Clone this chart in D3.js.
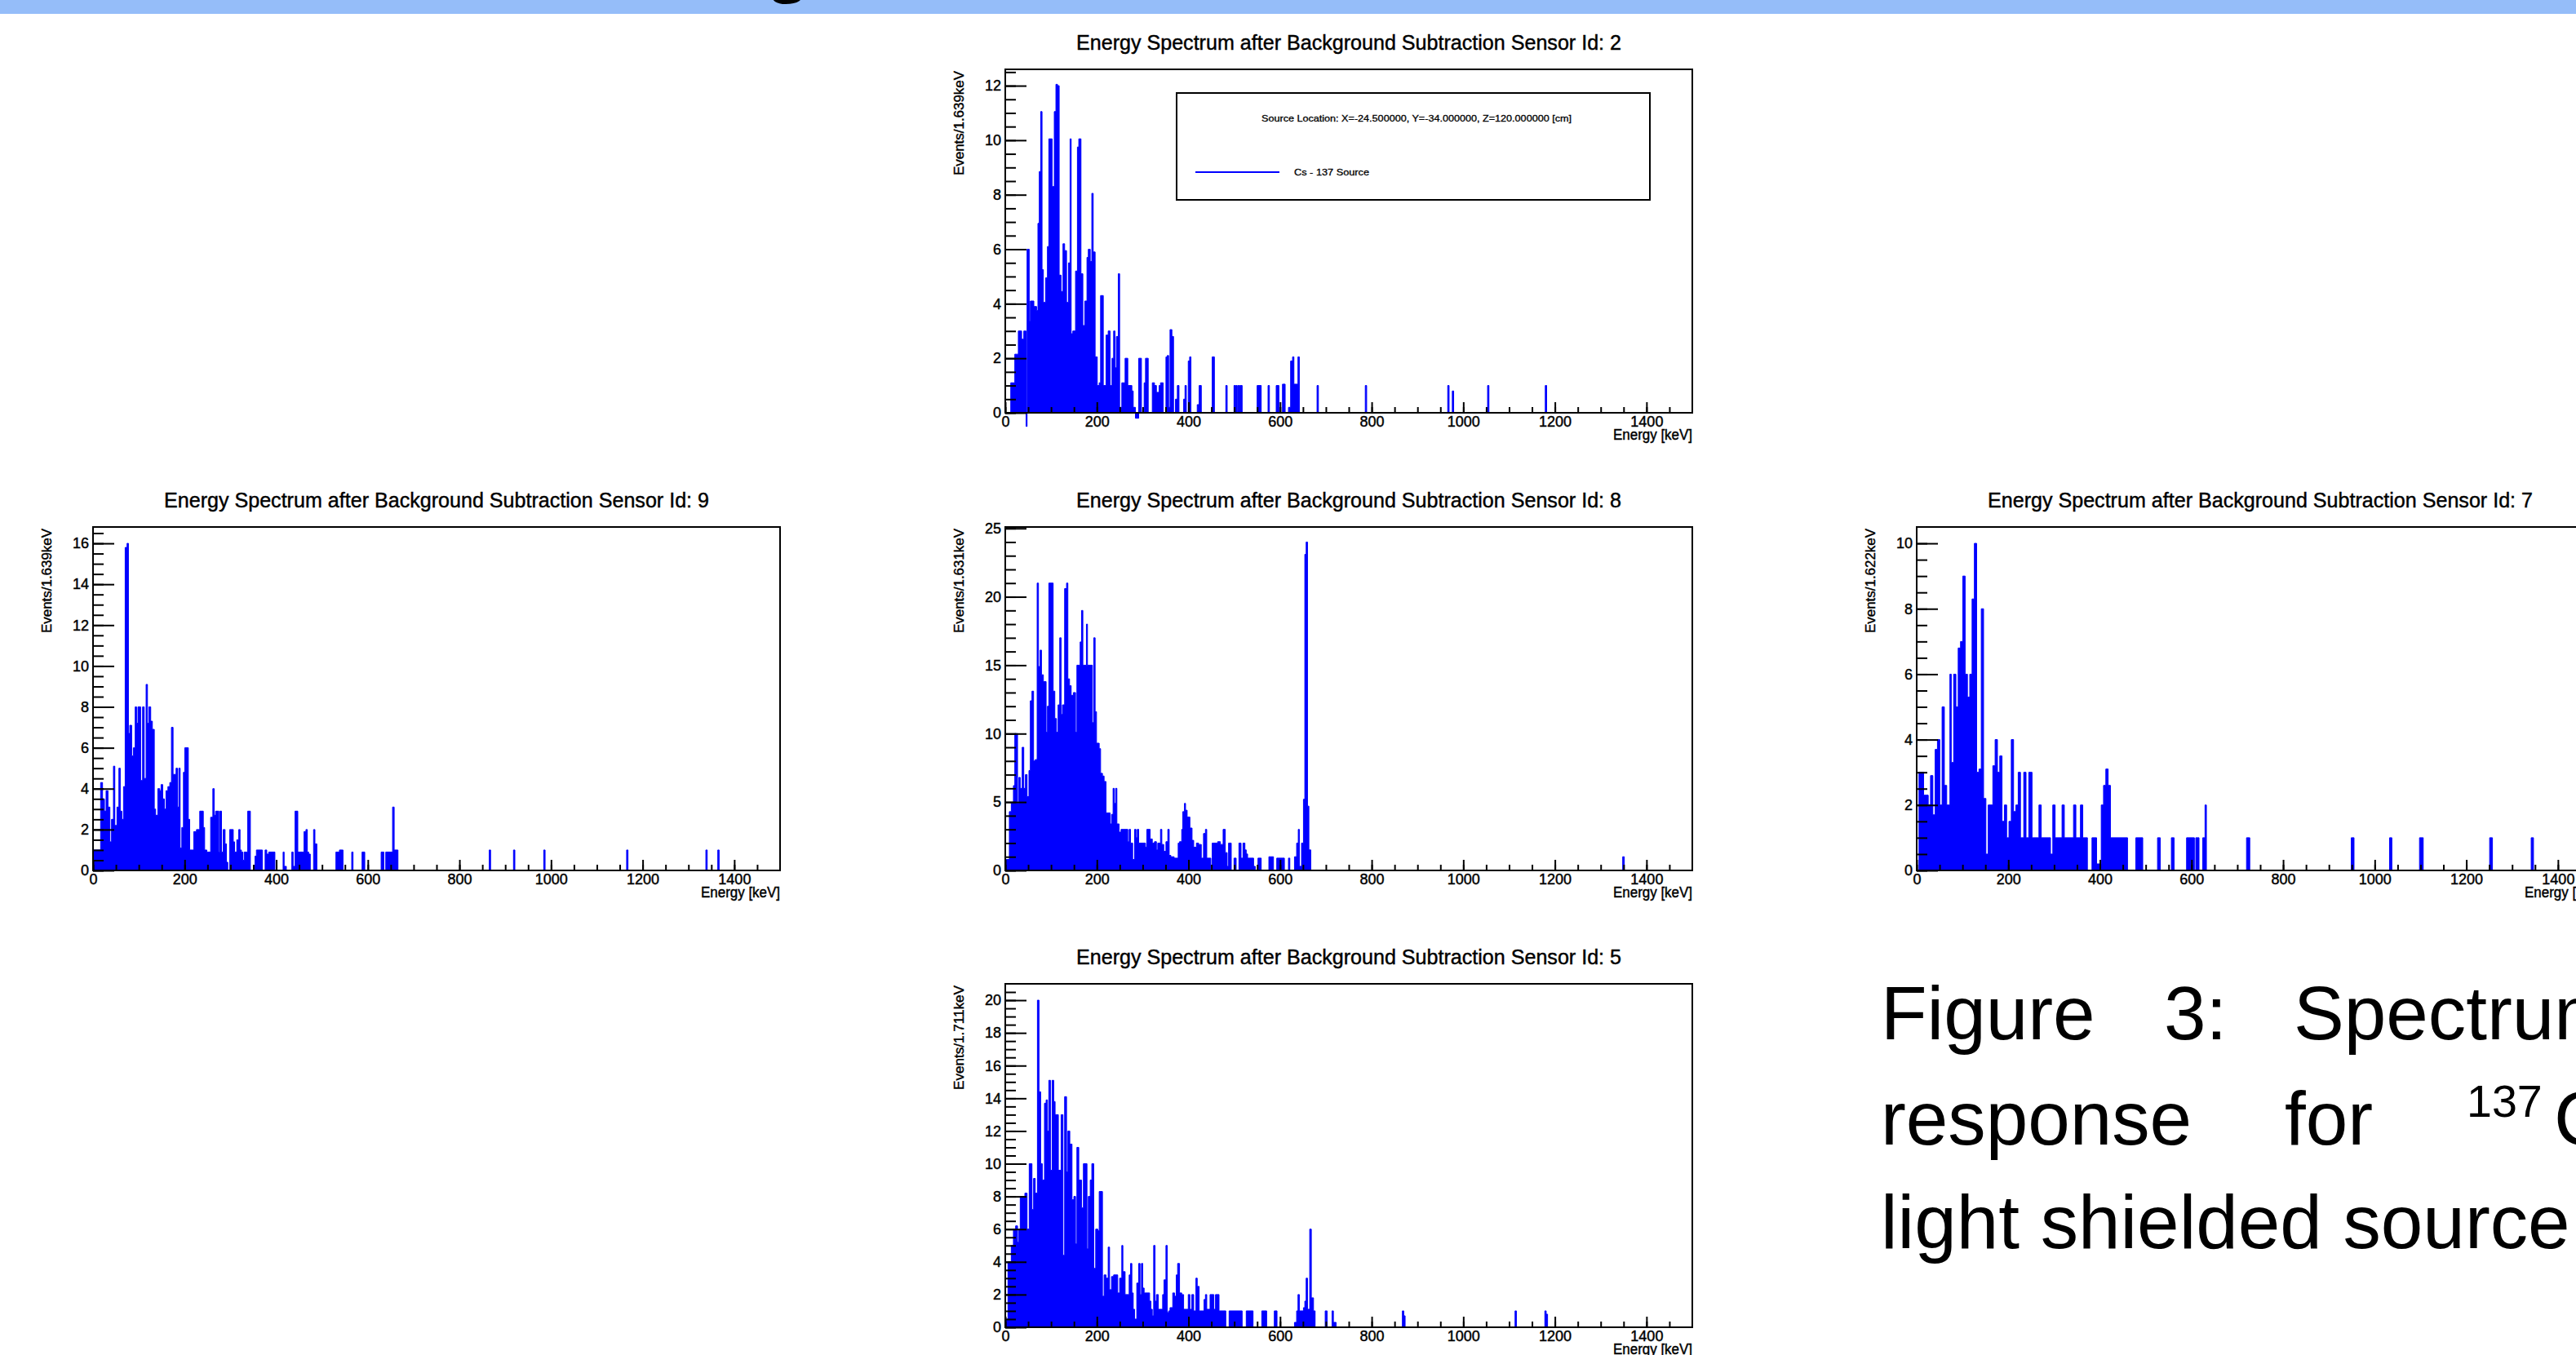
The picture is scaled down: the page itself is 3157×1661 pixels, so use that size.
<!DOCTYPE html>
<html>
<head>
<meta charset="utf-8">
<script src="https://cdn.jsdelivr.net/npm/d3@7"></script>
<style>
  body { margin: 0; background: #fff; }
  svg { display: block; }
  text { font-family: "Liberation Sans", Arial, Helvetica, sans-serif; }
</style>
</head>
<body>
<div id="wrapper"></div>
<script>
// ---- data ----
const sensorIds = [2, 9, 8, 7, 5]
const binWidths = ["1.639", "1.639", "1.631", "1.622", "1.711"]
const yMaxima = [12.6, 16.8, 25.1, 10.5, 21]
const yMajorSteps = [2, 2, 5, 2, 2]
const yMinorSteps = [0.5, 0.5, 1, 0.5, 0.5]
const energyTicks = [0, 200, 400, 600, 800, 1000, 1200, 1400]
const energyMinorStep = 50
const energyMax = 1500

// histogram outlines: [energy keV where the step starts, events]
const sensor2Steps = [[0,0],[12,1.1],[20.8,2.15],[28.5,3],[35.7,2.7],[40.4,3],[45.5,-0.5],[47.6,6],[52.3,3.35],[54.7,4.1],[62.4,3.9],[68.4,3.75],[71.3,6.95],[74.3,8.85],[77.3,11.05],[80.3,5.25],[83.2,4.05],[88,4.95],[92.1,6.1],[95.1,10.05],[102.3,8.3],[107,11.05],[110.6,12.05],[114.1,12],[117.7,5.05],[121.9,4.45],[126,6.2],[129.6,5.95],[133.8,4.05],[137.9,5.5],[141.5,10.05],[143.9,2.9],[147.4,3],[153.4,5.2],[157.5,9.75],[160.5,10.05],[165.3,5.1],[169.4,3.2],[173.6,4.1],[178.4,5.7],[181.3,6],[185.5,5.55],[189,8.05],[192,5.9],[196.2,2.05],[200.9,1],[205.1,1.1],[208.1,4.3],[214,1],[220,2.85],[224.7,3],[228.9,1],[233,2],[236.6,3],[239.6,1.65],[242.6,2.8],[246.7,5.1],[249.7,0.2],[254.4,1.1],[261.6,2],[267.5,1],[276.4,0.8],[279.4,0.2],[284.2,-0.2],[291.3,2],[297.3,0],[303.2,1.1],[306.2,2],[312.1,0],[321,1.1],[325.8,1],[330,0.75],[335.9,1],[338.9,1.1],[344.8,0],[350.8,2.05],[353.7,2.1],[356.7,0.2],[359.7,3.05],[363.8,2.8],[367.4,0],[371.6,0.5],[375.7,1],[379.3,0],[389.4,0.5],[392.4,1],[395.3,0],[399.5,1.9],[402.5,2.05],[405.4,0],[419.1,0.3],[423.3,1],[428,0],[451.8,2.05],[456.6,0],[481.5,1],[484.5,0],[499.4,1],[502.4,0],[503.5,1],[506.5,0],[508.3,1],[511.3,0],[512.5,1],[517.2,0],[549.9,1],[558.8,0],[573.7,1],[576.7,0],[591.5,1],[597.5,0],[605.2,1.05],[611.1,0],[618.3,0.2],[623,1.9],[627.2,2.05],[630.2,1.05],[639,2.05],[642,0],[680.7,1],[683.7,0],[786,1],[789,0],[966,1],[969,0],[976,0.8],[979,0],[1053,1],[1056,0],[1179,1],[1182,0]]

const sensor9Steps = [[0,1],[16.6,4.3],[20.8,3.5],[25,2.9],[28.5,3.9],[32.7,3.1],[36.9,1.4],[40.4,2.5],[44.6,5.1],[47.6,2.2],[52.3,3.1],[56.5,5],[59.5,2.9],[63,2.5],[66.6,4.1],[70.2,15.8],[74.3,16],[77.3,6.7],[80.3,7.1],[84.4,5.6],[88,6],[92.1,8],[95.1,7.2],[98.1,8],[104,4.4],[108.2,8],[111.8,4.5],[115.9,9.1],[118.9,7.2],[121.9,8],[126,7.3],[129.6,6.9],[133.8,3],[136.7,2.7],[141.5,4],[145.7,3.9],[148.6,4.2],[152.2,3.5],[155.8,3],[159.3,3.9],[163.5,4.1],[167.6,4.3],[171.2,7],[174.8,4.7],[181.3,5],[184.3,3.1],[187.3,5],[190.2,1.1],[193.8,2.1],[197.4,4.8],[200.3,6],[208.1,2.5],[211,1],[220,1.9],[225.9,2],[233,2.9],[240.8,2.1],[243.7,1],[248.5,0.9],[256.8,2.6],[261.6,4],[264.6,2.7],[267.5,2.9],[274.7,0.9],[277,2.9],[280.6,0.9],[284.2,2],[288.3,1.3],[291.3,0.4],[294.3,0],[298.4,2],[306.2,1.4],[309.1,0.9],[313.9,1.5],[318.1,2],[321,1],[324,0.9],[327,0.5],[330,0.9],[337.7,2.9],[343.6,0],[353.7,0.7],[356.7,1],[369.8,0],[375.7,1],[379.3,0.8],[383.5,0.9],[397.1,0],[415,0.9],[417.3,0.2],[422.1,0],[434,0.9],[437,0.2],[441.1,2.9],[447.1,0.9],[460.7,1.9],[464.9,2],[467.9,0.9],[470.8,0.8],[474.4,0],[481.5,2],[484.5,1.3],[488.7,0],[530.3,0.9],[538,1],[545.8,0],[564.8,0.9],[567.7,0],[587.4,0.9],[593.3,0],[629,0.9],[634.9,0],[639.1,0.9],[654,3.1],[657.5,1],[665.8,0],[865,1],[868,0],[918,1],[921,0],[984,1],[987,0],[1165,1],[1168,0],[1338,1],[1341,0],[1364,1],[1367,0]]

const sensor8Steps = [[0,0.8],[8.9,4.3],[13.1,4.9],[17.8,6.2],[20.8,10],[26.8,4.9],[29.7,6.8],[32.7,6],[36.9,9],[40.4,6],[44,7],[47.6,5.4],[51.7,7.3],[54.7,12.4],[58.3,13.1],[61.8,8],[65.4,8.1],[69.6,21],[72.5,14.9],[76.1,16.1],[79.1,14.3],[83.2,13.8],[89.2,10.1],[92.1,12],[95.1,21],[104.6,13.1],[108.2,11.1],[111.8,10.1],[115.3,12.1],[118.9,17],[121.9,11.4],[124.8,12.1],[129.6,20.6],[133.8,21],[136.7,14],[140.3,13.5],[143.9,12.8],[148.6,13],[153.4,10.1],[156.4,15],[163.5,16.7],[166.5,19],[169.4,15],[177.2,18],[179.5,15],[190.2,10.8],[193.2,17],[196.2,11.6],[199.2,9.3],[205.1,8.9],[208.1,7.1],[212.2,6.9],[215.8,6.5],[220,4.2],[228.9,3.4],[231.9,4.1],[235.4,6],[237.8,4.9],[240.8,6],[243.7,3.4],[248.5,2.8],[252.7,3],[267.5,2.1],[270.5,3],[273.5,2],[278.2,0.8],[282.4,3],[285.4,2.4],[288.3,3],[291.3,2],[306.2,1.7],[309.1,3],[316.3,2.3],[321,2],[325.8,2.1],[330,1.5],[332.9,2],[338.9,3],[341.8,1.9],[346,1.4],[350.8,2.1],[354.9,3],[357.9,1.1],[361.5,1],[368.6,0.9],[377.5,2],[380.5,2.1],[385.2,3],[387.6,4.3],[391.2,4.9],[393.6,4.4],[397.1,3.9],[403.1,3.1],[407.8,2.2],[411.4,1.7],[417.3,2],[422.1,1.9],[428,0.9],[432.8,2.7],[437,3],[439.9,0.9],[448.8,0],[451.8,2],[463.7,2.1],[469.7,1.9],[475.6,3],[480.4,1.3],[484.5,0.3],[487.5,2],[493.4,0],[499.4,0.9],[504.1,0],[510.1,2],[514.8,0.9],[519,2],[523.2,1.5],[526.1,1.2],[529.1,0.9],[542.2,0.3],[545.8,0],[551.7,0.9],[558.8,0],[575.5,1],[585.6,0],[592.7,0.9],[609.4,0],[618.3,0.9],[621.3,0],[631.4,1],[636.1,2],[639.7,3],[642.1,0.3],[646.8,2],[651,5.2],[654,23.1],[656.9,24],[659.9,4.7],[662.9,1.5],[667,0],[1348,1],[1351.5,0]]

const sensor7Steps = [[0,0],[5,3],[15.1,2.3],[25.2,2],[30.2,2.9],[35.3,1.7],[40.3,3.7],[45.3,4],[50.4,2],[55.4,5],[60.4,2.6],[65.5,2],[72.5,6],[75.5,3.3],[80.6,6],[85.6,5],[90.6,6.8],[95.7,7],[100.7,9],[105.8,6],[110.8,5.3],[115.8,6],[120.9,8.3],[125.9,10],[130.9,3],[136,3.1],[141,8],[146,2.2],[151.1,0.5],[156.1,2],[166.2,3.2],[171.2,4],[176.3,3],[181.3,3.5],[186.3,1.5],[191.4,2],[196.4,1],[201.4,1.5],[206.5,4],[211.5,1.8],[216.5,2],[221.6,3],[226.6,1],[233.7,3],[238.7,1],[244.7,3],[251.8,1],[266.9,2],[271.9,1],[292.1,0.5],[297.1,2],[302.2,1],[317.3,2],[322.3,1],[342.4,2],[347.5,1],[357.5,2],[362.6,1],[372.7,0],[382.7,1],[392.8,0.2],[402.9,2],[407.9,2.6],[412.9,3.1],[418,2.6],[423,1],[460.3,0],[478.4,1],[493.5,0],[525.8,1],[531.8,0],[556,1],[562,0],[589.2,1],[606.3,0],[609.3,1],[616.4,0],[624.5,1],[629.5,2],[632.5,0],[720.1,1],[727.2,0],[948.8,1],[954.8,0],[1032.4,1],[1037.4,0],[1097.8,1],[1105.9,0],[1250.9,1],[1257,0],[1341.6,1],[1346.6,0]]

const sensor5Steps = [[0,0.5],[5.9,4],[13.1,5],[17.8,6],[22.6,6.2],[26.8,5.2],[29.7,6],[32.7,8],[42.8,8.2],[47.6,6],[52.3,10],[58.3,7.2],[61.8,9.1],[65.4,8.2],[70.2,20],[73.7,14.4],[77.3,10],[80.9,9],[85.6,13.7],[89.2,13.9],[92.1,12],[95.1,15.1],[98.7,9.6],[102.3,15.1],[105.8,13.8],[108.8,13],[115.9,9.6],[121.9,13],[126,4.4],[129.6,14.1],[133.8,9.5],[136.7,12],[140.9,11.2],[145.7,7.8],[149.8,8],[153.4,5.1],[156.4,11],[160.5,9],[166.5,7.3],[170.6,10],[178.4,4.8],[181.3,8],[185.5,9],[189,10],[193.2,3.6],[197.4,6],[202.1,5.9],[205.1,8.3],[212.2,1.9],[215.8,3.2],[220,3],[224.7,4.9],[227.7,2.3],[231.9,3.1],[236.6,3.2],[245.5,2.1],[249.7,3],[254.4,5],[256.8,3.4],[261.6,2],[270.5,3.2],[273.5,3.9],[276.4,2.1],[279.4,1.1],[282.4,0.5],[287.1,2.7],[291.3,3.9],[294.3,2],[297.3,3.9],[300.2,2.4],[303.2,2.1],[315.1,1.6],[318.1,1.1],[321,0.7],[324,5],[327,1.6],[330,2],[334.1,1.1],[343.6,2],[346.6,2.9],[350.8,5],[353.7,0.9],[356.7,1],[359.7,1.2],[365.6,2.1],[369.8,1.9],[373.3,3.2],[376.3,3.9],[380.5,2.1],[385.2,2],[389.4,1.1],[399.5,2],[403.1,1.1],[407.2,2],[411.4,1],[416.2,3],[419.1,2.5],[423.3,1],[434,1.7],[437,2],[439.9,1.1],[447.1,2],[455.4,1.1],[459,2],[466.7,1],[481.5,0],[488.7,1],[517.2,0],[526.1,1],[541,0],[560,1],[570.7,0],[587.4,1],[593.3,0],[631.4,0.3],[636.1,1],[639.1,2],[642.1,1],[651,1.2],[654,1.6],[656.9,3],[659.9,1.1],[664.7,6],[668.2,1.8],[673,1],[676.5,0],[698.5,1],[702.7,0],[713.4,1],[716.4,0.3],[722.3,0],[867,1],[870,0.7],[873,0],[1113,1],[1116,0],[1178,1],[1181,0.8],[1184,0]]

const sensorSteps = [sensor2Steps, sensor9Steps, sensor8Steps, sensor7Steps, sensor5Steps]

const titlePrefix = "Energy Spectrum after Background Subtraction Sensor Id: "
const xTitle = "Energy [keV]"
const legendHeader = "Source Location: X=-24.500000, Y=-34.000000, Z=120.000000 [cm]"
const legendEntry = "Cs - 137 Source"
const captionLines = [["Figure", "3:", "Spectrum"], ["response", "for", "137", "Cs"], ["light shielded source"]]

// ---- layout ----
const dimensions = {
    width: 3157,
    height: 1661,
    frameWidth: 842,
    frameHeight: 421
}
const panelOrigins = [[1232, 85], [114, 646], [1232, 646], [2349, 646], [1232, 1206]]
const histColor = "#0000ff"

const svg = d3.select("#wrapper")
    .append("svg")
    .attr("width", dimensions.width)
    .attr("height", dimensions.height)

svg.append("rect")
    .attr("width", dimensions.width)
    .attr("height", dimensions.height)
    .attr("fill", "#fff")

// slide header strip
svg.append("rect")
    .attr("width", dimensions.width)
    .attr("height", 17)
    .attr("fill", "#95bdf9")
svg.append("text")
    .attr("x", 944)
    .attr("y", -14)
    .style("font-family", "'Open Sans', sans-serif")
    .style("font-size", "80px")
    .text("g")

const xScale = d3.scaleLinear()
    .domain([0, energyMax])
    .range([0, dimensions.frameWidth])

// ROOT renders its Helvetica a bit heavy; a hairline stroke mimics that
const heavyText = sel => sel.attr("fill", "#000").attr("stroke", "#000").attr("stroke-width", 0.45)

const drawPanel = (i) => {
    const [ox, oy] = panelOrigins[i]
    const g = svg.append("g")
        .attr("transform", `translate(${ox}, ${oy})`)

    const yScale = d3.scaleLinear()
        .domain([0, yMaxima[i]])
        .range([dimensions.frameHeight, 0])

    // title
    g.append("text")
        .attr("x", dimensions.frameWidth / 2)
        .attr("y", -24)
        .attr("text-anchor", "middle")
        .attr("textLength", 668)
        .attr("lengthAdjust", "spacingAndGlyphs")
        .style("font-size", "26px")
        .call(heavyText)
        .text(titlePrefix + sensorIds[i])

    // histogram
    const steps = sensorSteps[i]
    const area = d3.area()
        .curve(d3.curveStepAfter)
        .x(d => xScale(d[0]))
        .y0(yScale(0))
        .y1(d => yScale(d[1]))
    g.append("path")
        .datum(steps)
        .attr("d", area)
        .attr("fill", histColor)
        .attr("stroke", histColor)
        .attr("stroke-width", 1)

    // y axis (ticks inside the frame, ROOT style)
    const yMajor = d3.range(0, yMaxima[i] + 0.001, yMajorSteps[i])
    const yMinor = d3.range(0, yMaxima[i], yMinorSteps[i])
    const yMinorAxis = d3.axisLeft(yScale).tickValues(yMinor).tickSize(-13).tickSizeOuter(0).tickFormat("")
    const yMajorAxis = d3.axisLeft(yScale).tickValues(yMajor).tickSize(-26).tickSizeOuter(0).tickPadding(5)
        .tickFormat(d3.format("d"))
    const yMinorEl = g.append("g").call(yMinorAxis)
    const yMajorEl = g.append("g").call(yMajorAxis)

    // x axis
    const xMinor = d3.range(0, energyMax, energyMinorStep)
    const xMinorAxis = d3.axisBottom(xScale).tickValues(xMinor).tickSize(-7).tickSizeOuter(0).tickFormat("")
    const xMajorAxis = d3.axisBottom(xScale).tickValues(energyTicks).tickSize(-13).tickSizeOuter(0).tickPadding(4)
        .tickFormat(d3.format("d"))
    const xMinorEl = g.append("g").attr("transform", `translate(0, ${dimensions.frameHeight})`).call(xMinorAxis)
    const xMajorEl = g.append("g").attr("transform", `translate(0, ${dimensions.frameHeight})`).call(xMajorAxis)

    ;[yMinorEl, yMajorEl, xMinorEl, xMajorEl].forEach(el => {
        el.select(".domain").remove()
        el.selectAll("line").attr("stroke", "#000").attr("stroke-width", 2)
        el.selectAll("text")
            .call(heavyText)
            .style("font-size", "18px")
            .style("font-family", "'Liberation Sans', Arial, sans-serif")
    })

    // frame
    g.append("rect")
        .attr("width", dimensions.frameWidth)
        .attr("height", dimensions.frameHeight)
        .attr("fill", "none")
        .attr("stroke", "#000")
        .attr("stroke-width", 2)

    // axis titles
    g.append("text")
        .attr("x", dimensions.frameWidth)
        .attr("y", dimensions.frameHeight + 33)
        .attr("text-anchor", "end")
        .attr("textLength", 97)
        .attr("lengthAdjust", "spacingAndGlyphs")
        .style("font-size", "18px")
        .call(heavyText)
        .text(xTitle)

    g.append("text")
        .attr("transform", "rotate(-90)")
        .attr("x", -2)
        .attr("y", -51)
        .attr("text-anchor", "end")
        .attr("textLength", 128)
        .attr("lengthAdjust", "spacingAndGlyphs")
        .style("font-size", "17px")
        .call(heavyText)
        .text("Events/" + binWidths[i] + "keV")

    return g
}

const panels = sensorIds.map((d, i) => drawPanel(i))

// legend on the sensor 2 panel
const legend = panels[0].append("g")
    .attr("transform", "translate(210, 29)")
legend.append("rect")
    .attr("width", 580)
    .attr("height", 131)
    .attr("fill", "#fff")
    .attr("stroke", "#000")
    .attr("stroke-width", 2)
legend.append("text")
    .attr("x", 294)
    .attr("y", 35)
    .attr("text-anchor", "middle")
    .attr("textLength", 380)
    .attr("lengthAdjust", "spacingAndGlyphs")
    .style("font-size", "11px")
    .call(heavyText)
    .attr("stroke-width", 0.3)
    .text(legendHeader)
legend.append("line")
    .attr("x1", 23).attr("x2", 126)
    .attr("y1", 97).attr("y2", 97)
    .attr("stroke", histColor)
    .attr("stroke-width", 2)
legend.append("text")
    .attr("x", 144)
    .attr("y", 101)
    .attr("textLength", 92)
    .attr("lengthAdjust", "spacingAndGlyphs")
    .style("font-size", "11px")
    .call(heavyText)
    .attr("stroke-width", 0.3)
    .text(legendEntry)

// caption (justified on the slide, so each word is placed)
// size the font so its capital height matches the slide, then squeeze to the word widths
const captionFont = "Lato, 'Open Sans', sans-serif"
const ctx = document.createElement("canvas").getContext("2d")
ctx.font = `100px ${captionFont}`
const capRatio = ctx.measureText("F").actualBoundingBoxAscent / 100 || 0.72
const captionSize = 67 / capRatio
const supSize = captionSize * 0.6
ctx.font = `${captionSize}px ${captionFont}`
const squeeze = 255 / ctx.measureText("Figure").width

const caption = svg.append("g")
    .style("font-family", captionFont)

const captionBaselines = [1274, 1403, 1530]
const captionWordX = [[2305, 2652, 2811], [2305, 2800, 3023, 3130], [2305]]
captionLines.forEach((words, li) => {
    words.forEach((w, wi) => {
        const isSup = li === 1 && wi === 2
        caption.append("text")
            .attr("transform", `translate(${captionWordX[li][wi]}, ${isSup ? 1369 : captionBaselines[li]}) scale(${squeeze}, 1)`)
            .style("font-size", (isSup ? supSize : captionSize) + "px")
            .attr("fill", "#000")
            .text(w)
    })
})
</script>
</body>
</html>
